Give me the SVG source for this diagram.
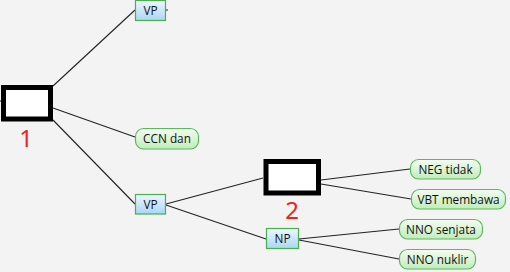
<svg xmlns="http://www.w3.org/2000/svg" width="510" height="272" viewBox="0 0 510 272">
  <defs>
    <linearGradient id="gBlue" x1="0" y1="0" x2="0" y2="1">
      <stop offset="0" stop-color="#eef8ff"/>
      <stop offset="1" stop-color="#a9d6f5"/>
    </linearGradient>
    <linearGradient id="gGreen" x1="0" y1="0" x2="0" y2="1">
      <stop offset="0" stop-color="#f4fcf2"/>
      <stop offset="1" stop-color="#c2ecbb"/>
    </linearGradient>
  </defs>
  <style>
    .phrase { fill: url(#gBlue); stroke: #4cae4c; stroke-width: 1.2; }
    .leaf { fill: url(#gGreen); stroke: #5cb85c; stroke-width: 1.2; }
    .blank { fill: #ffffff; stroke: #000000; stroke-width: 5; }
    .lbl { font-family: "Open Sans", "Noto Sans", "DejaVu Sans", sans-serif; font-size: 11.8px; fill: #111111; text-anchor: middle; }
    .num { font-family: "Noto Sans", "DejaVu Sans", sans-serif; font-size: 24px; fill: #ee2222; text-anchor: middle; }
    .edge { stroke: #222222; stroke-width: 1.1; fill: none; }
  </style>
  <rect width="510" height="272" fill="#f3f3f3"/>

  <g id="connectors">
    <path class="edge" d="M53 86 L135 10"/>
    <path class="edge" d="M53 108 L135 137"/>
    <path class="edge" d="M53 120 L135 204"/>
    <path class="edge" d="M166 204 L263 178"/>
    <path class="edge" d="M166 205 L266 239"/>
    <path class="edge" d="M321 180 L410 169"/>
    <path class="edge" d="M321 184 L411 199"/>
    <path class="edge" d="M299 239 L399 229"/>
    <path class="edge" d="M299 240 L399 259"/>
    <path class="edge" d="M0 101 L1 101"/>
    <path class="edge" d="M166 10 L168 10"/>
  </g>

  <g id="blank1">
    <rect class="blank" x="3.5" y="87.5" width="47" height="31.5"/>
    <text class="num" x="26" y="146.5">1</text>
  </g>

  <g id="vp-top">
    <rect class="phrase" x="135.5" y="0.5" width="30" height="20"/>
    <text class="lbl" x="150.5" y="15">VP</text>
  </g>

  <g id="ccn-dan">
    <rect class="leaf" x="135.5" y="128.5" width="63" height="20.5" rx="8"/>
    <text class="lbl" x="167" y="143">CCN dan</text>
  </g>

  <g id="vp-low">
    <rect class="phrase" x="135.5" y="194.5" width="30" height="19.5"/>
    <text class="lbl" x="150.5" y="209">VP</text>
  </g>

  <g id="blank2">
    <rect class="blank" x="266" y="161.5" width="52.5" height="31.5"/>
    <text class="num" x="292" y="218.5">2</text>
  </g>

  <g id="np">
    <rect class="phrase" x="266.5" y="228.5" width="32" height="20"/>
    <text class="lbl" x="282.5" y="243">NP</text>
  </g>

  <g id="neg-tidak">
    <rect class="leaf" x="410.5" y="159.5" width="70" height="19.5" rx="8"/>
    <text class="lbl" x="445.5" y="173.5">NEG tidak</text>
  </g>

  <g id="vbt-membawa">
    <rect class="leaf" x="411.5" y="189.5" width="94" height="19.5" rx="8"/>
    <text class="lbl" x="458.5" y="203.5">VBT membawa</text>
  </g>

  <g id="nno-senjata">
    <rect class="leaf" x="399.5" y="219.5" width="83" height="19.5" rx="8"/>
    <text class="lbl" x="441" y="233.5">NNO senjata</text>
  </g>

  <g id="nno-nuklir">
    <rect class="leaf" x="399.5" y="249.5" width="76" height="19.5" rx="8"/>
    <text class="lbl" x="437.5" y="263.5">NNO nuklir</text>
  </g>
</svg>
